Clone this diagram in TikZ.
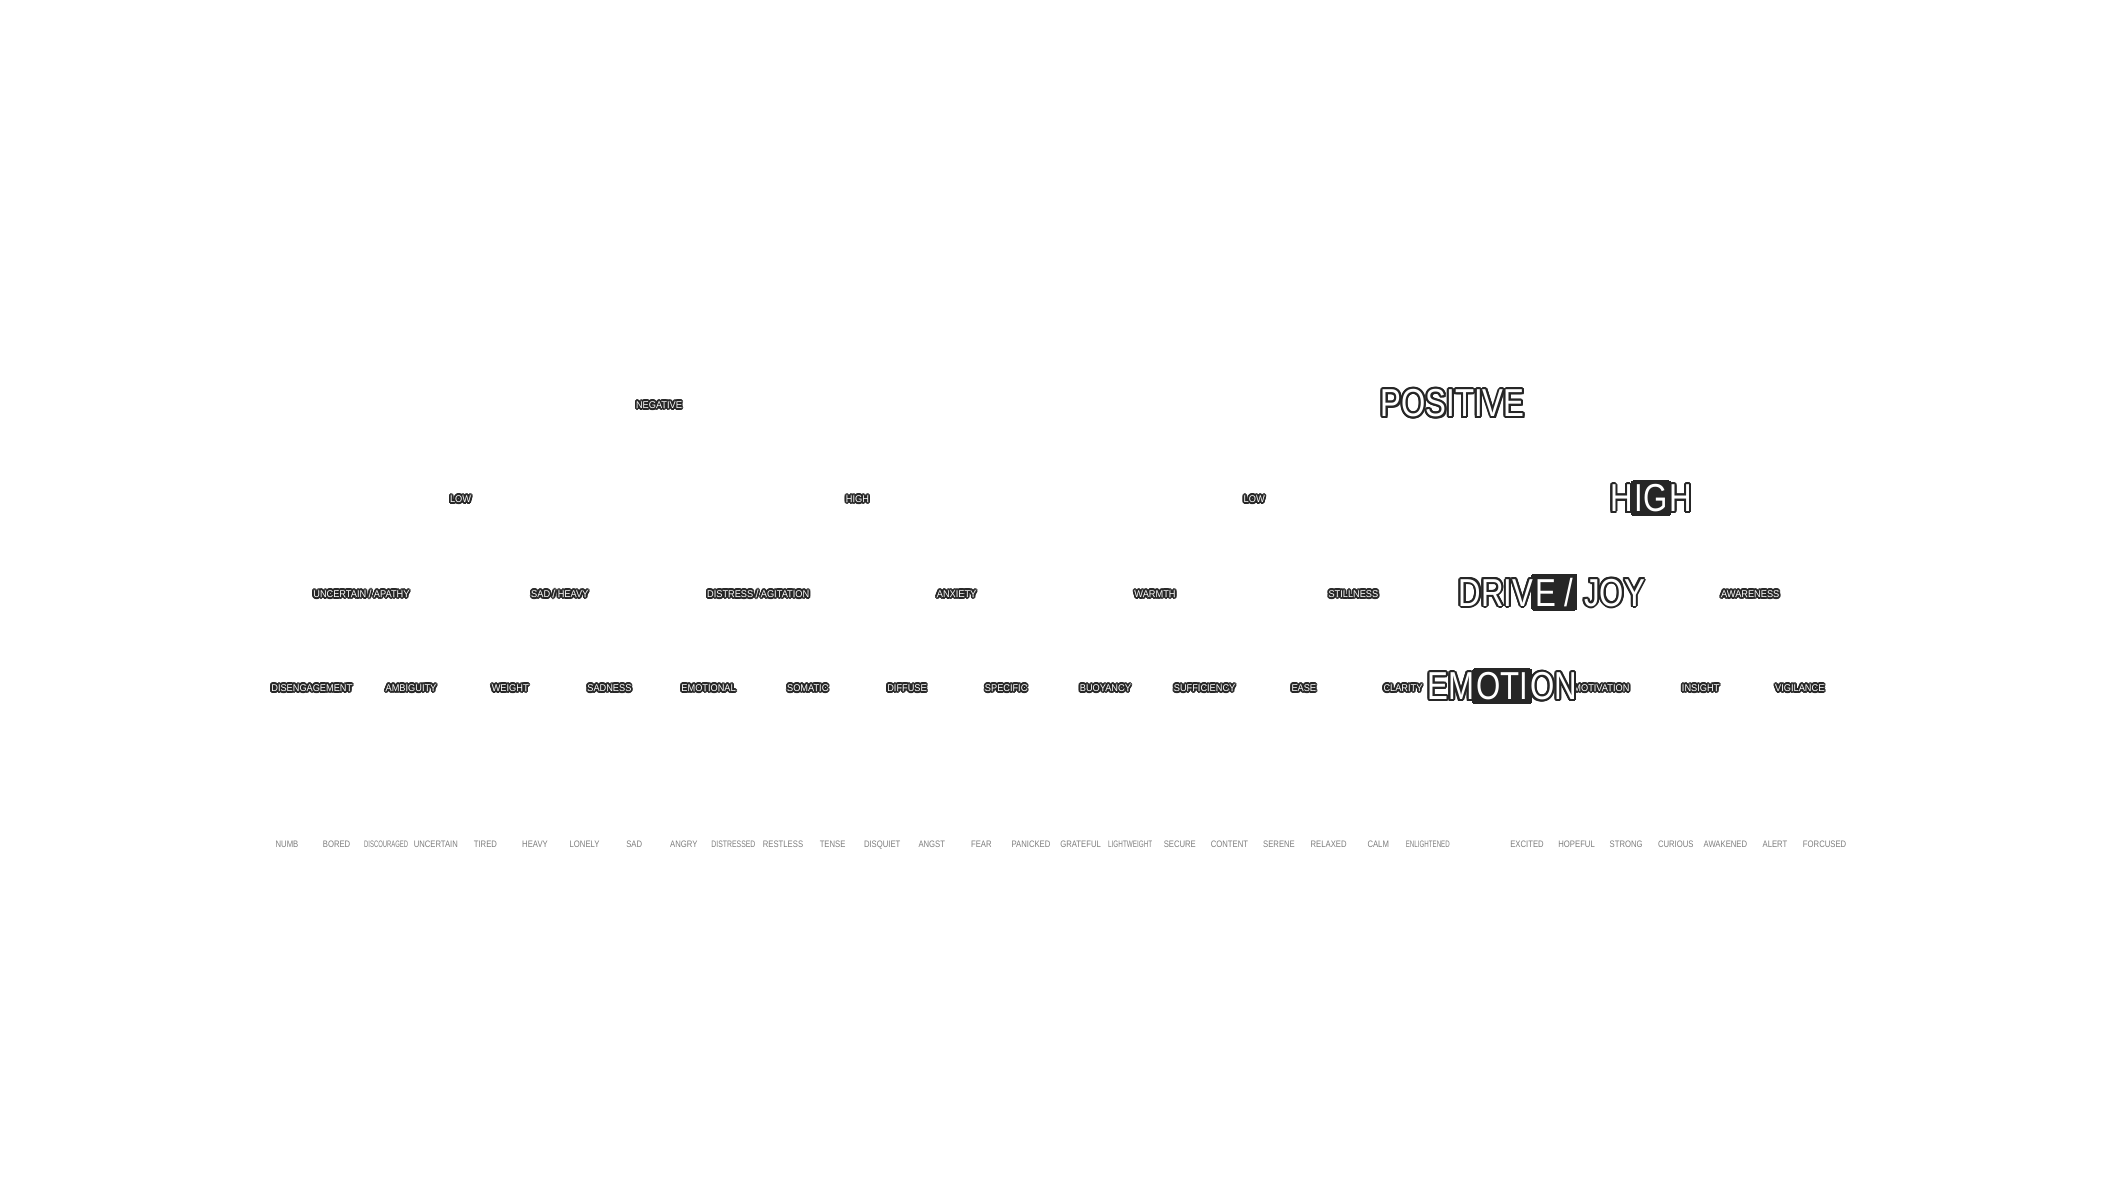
\documentclass[tikz,border=0pt]{standalone}
\usepackage{fontspec}
\usepackage{graphicx}
\newfontfamily\smallf[FakeStretch=0.94]{Liberation Sans}
\newfontfamily\bigf[FakeStretch=0.8]{Liberation Sans}
\newfontfamily\botf[FakeStretch=0.82]{Liberation Sans}
\definecolor{halocol}{HTML}{262626}
\definecolor{botgray}{HTML}{7E7E7E}
\newsavebox\fitbox
% squeeze text to a maximal width
\newcommand\fitw[2]{%
  \sbox\fitbox{#2}%
  \ifdim\wd\fitbox>#1\relax\resizebox{#1}{\height}{\usebox\fitbox}\else\usebox\fitbox\fi}
\newcommand\bt[1]{\fitw{22pt}{#1}}
% dark patch behind some letters of the large labels
\newcommand\dk[1]{{\setlength\fboxsep{1pt}\colorbox{halocol}{\color{white}#1}}}
% label with a dark halo: #1 style, #2 name, #3 position, #4 radius, #5 text
\newcommand\hl[5]{%
  \foreach \ang in {0,22.5,...,337.5}{%
    \node[#1,text=halocol] at ([shift={(\ang:#4)}]#3) {#5};}
  \node[#1,text=white] (#2) at (#3) {#5};}
\tikzset{
  botlab/.style={font=\botf\fontsize{4.7pt}{4.7pt}\selectfont, text=botgray, inner sep=0pt, text depth=0pt},
  smlab/.style={font=\smallf\fontsize{4.9pt}{5pt}\selectfont, inner sep=0pt, text depth=0pt},
  biglab/.style={font=\bigf\fontsize{19.5pt}{20pt}\selectfont, inner sep=0pt, text depth=0pt},
}
\begin{document}
\begin{tikzpicture}[x=0.5pt,y=-0.5pt]
\fill[white] (0,0) rectangle (2115,1192);
\useasboundingbox (0,0) rectangle (2115,1192);
% bottom row
\node[botlab] (b0)  at (287,844)    {\bt{NUMB}};
\node[botlab] (b1)  at (336.6,844)  {\bt{BORED}};
\node[botlab] (b2)  at (386.2,844)  {\bt{DISCOURAGED}};
\node[botlab] (b3)  at (435.8,844)  {\bt{UNCERTAIN}};
\node[botlab] (b4)  at (485.4,844)  {\bt{TIRED}};
\node[botlab] (b5)  at (535,844)    {\bt{HEAVY}};
\node[botlab] (b6)  at (584.6,844)  {\bt{LONELY}};
\node[botlab] (b7)  at (634.2,844)  {\bt{SAD}};
\node[botlab] (b8)  at (683.8,844)  {\bt{ANGRY}};
\node[botlab] (b9)  at (733.4,844)  {\bt{DISTRESSED}};
\node[botlab] (b10) at (783,844)    {\bt{RESTLESS}};
\node[botlab] (b11) at (832.6,844)  {\bt{TENSE}};
\node[botlab] (b12) at (882.2,844)  {\bt{DISQUIET}};
\node[botlab] (b13) at (931.8,844)  {\bt{ANGST}};
\node[botlab] (b14) at (981.4,844)  {\bt{FEAR}};
\node[botlab] (b15) at (1031,844)   {\bt{PANICKED}};
\node[botlab] (b16) at (1080.6,844) {\bt{GRATEFUL}};
\node[botlab] (b17) at (1130.2,844) {\bt{LIGHTWEIGHT}};
\node[botlab] (b18) at (1179.8,844) {\bt{SECURE}};
\node[botlab] (b19) at (1229.4,844) {\bt{CONTENT}};
\node[botlab] (b20) at (1279,844)   {\bt{SERENE}};
\node[botlab] (b21) at (1328.6,844) {\bt{RELAXED}};
\node[botlab] (b22) at (1378.2,844) {\bt{CALM}};
\node[botlab] (b23) at (1427.8,844) {\bt{ENLIGHTENED}};
\node[botlab] (b25) at (1527,844)   {\bt{EXCITED}};
\node[botlab] (b26) at (1576.6,844) {\bt{HOPEFUL}};
\node[botlab] (b27) at (1626.2,844) {\bt{STRONG}};
\node[botlab] (b28) at (1675.8,844) {\bt{CURIOUS}};
\node[botlab] (b29) at (1725.4,844) {\bt{AWAKENED}};
\node[botlab] (b30) at (1775,844)   {\bt{ALERT}};
\node[botlab] (b31) at (1824.6,844) {\bt{FORCUSED}};
% fourth row
\hl{smlab}{d0}{311.8,688}{0.9pt}{DISENGAGEMENT}
\hl{smlab}{d1}{411,688}{0.9pt}{AMBIGUITY}
\hl{smlab}{d2}{510.2,688}{0.9pt}{WEIGHT}
\hl{smlab}{d3}{609.4,688}{0.9pt}{SADNESS}
\hl{smlab}{d4}{708.6,688}{0.9pt}{EMOTIONAL}
\hl{smlab}{d5}{807.8,688}{0.9pt}{SOMATIC}
\hl{smlab}{d6}{907,688}{0.9pt}{DIFFUSE}
\hl{smlab}{d7}{1006.2,688}{0.9pt}{SPECIFIC}
\hl{smlab}{d8}{1105.4,688}{0.9pt}{BUOYANCY}
\hl{smlab}{d9}{1204.6,688}{0.9pt}{SUFFICIENCY}
\hl{smlab}{d10}{1303.8,688}{0.9pt}{EASE}
\hl{smlab}{d11}{1403,688}{0.9pt}{CLARITY}
\hl{smlab}{d13}{1601.4,688}{0.9pt}{MOTIVATION}
\hl{smlab}{d14}{1700.6,688}{0.9pt}{INSIGHT}
\hl{smlab}{d15}{1799.8,688}{0.9pt}{VIGILANCE}
% third row
\hl{smlab}{c0}{361.4,594}{0.9pt}{UNCERTAIN / APATHY}
\hl{smlab}{c1}{559.8,594}{0.9pt}{SAD / HEAVY}
\hl{smlab}{c2}{758.2,594}{0.9pt}{DISTRESS / AGITATION}
\hl{smlab}{c3}{956.6,594}{0.9pt}{ANXIETY}
\hl{smlab}{c4}{1155,594}{0.9pt}{WARMTH}
\hl{smlab}{c5}{1353.4,594}{0.9pt}{STILLNESS}
\hl{smlab}{c7}{1750.2,594}{0.9pt}{AWARENESS}
% second row
\hl{smlab}{a0}{460.6,499}{0.9pt}{LOW}
\hl{smlab}{a1}{857.4,499}{0.9pt}{HIGH}
\hl{smlab}{a2}{1254.2,499}{0.9pt}{LOW}
% first row
\hl{smlab}{n0}{659,405}{0.9pt}{NEGATIVE}
% highlighted path
\hl{biglab}{n1}{1452.6,403}{1pt}{POSITIVE}
\hl{biglab}{a3}{1651,497}{1pt}{H\dk{IG}H}
\hl{biglab}{c6}{1551.8,591}{1pt}{DRIV\dk{E\ /}\ JOY}
\hl{biglab}{d12}{1502.2,685}{1pt}{EM\dk{OTI}ON}
\end{tikzpicture}
\end{document}
